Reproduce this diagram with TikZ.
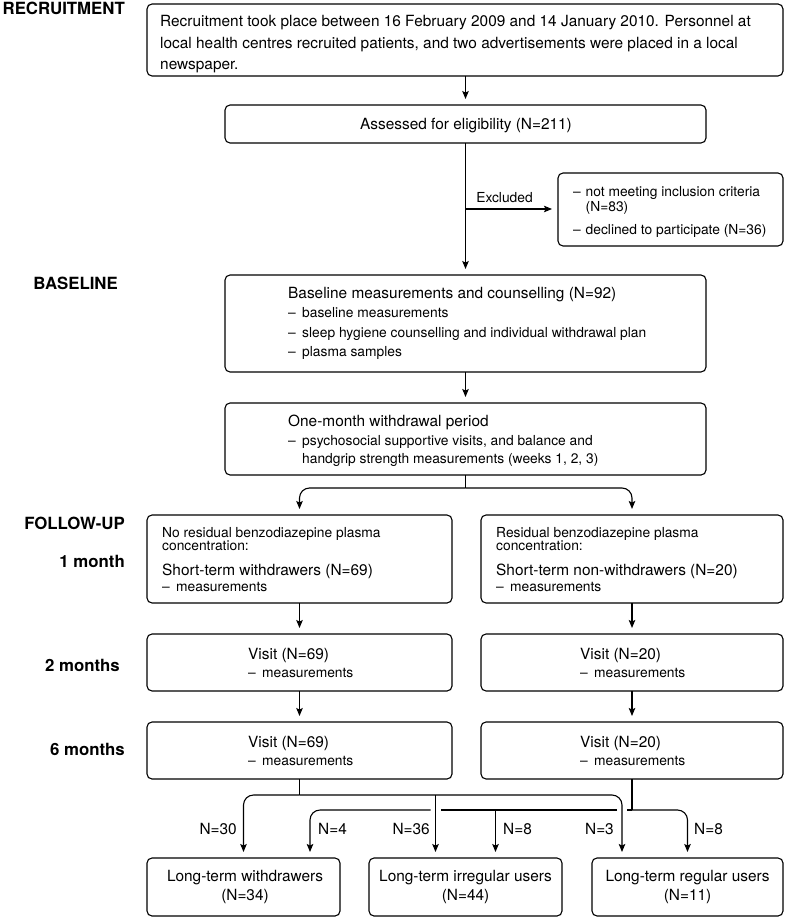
\documentclass[tikz,border=0pt]{standalone}
\usepackage{fontspec}
\setmainfont{TeX Gyre Heros}
\usetikzlibrary{arrows.meta,calc}
\newcommand\dashitem[1]{\makebox[14pt][l]{–}#1}
\begin{document}
\begin{tikzpicture}[x=1pt,y=-1pt,
  box/.style={draw, line width=1.1pt, rounded corners=5pt, inner sep=0pt, outer sep=0pt},
  ln/.style={inner sep=0pt, anchor=base west},
  lnc/.style={inner sep=0pt, anchor=base},
  big/.style={font=\fontsize{15.4}{18}\selectfont},
  sml/.style={font=\fontsize{13.8}{16}\selectfont},
  phase/.style={inner sep=0pt, anchor=base east, font=\bfseries\fontsize{16.8}{20}\selectfont},
  conn/.style={line width=1.1pt},
  arr/.style={conn, -{Stealth[length=8pt,width=6.5pt,inset=1.5pt]}, shorten >=6pt},
  lw/.style={inner sep=0pt, anchor=base west, font=\fontsize{15.4}{18}\selectfont},
  le/.style={inner sep=0pt, anchor=base east, font=\fontsize{15.4}{18}\selectfont}
]
\useasboundingbox (0,0) rectangle (785,917);

% phase labels
\node[phase] (pRec) at (125,15) {RECRUITMENT};
\node[phase] (pBase) at (118,289) {BASELINE};
\node[phase] (pFol) at (125,529) {FOLLOW-UP};
\node[phase] (p1) at (125,567) {1 month};
\node[phase] (p2) at (120,671) {2 months};
\node[phase] (p6) at (125,755) {6 months};

% recruitment
\node[box, minimum width=636pt, minimum height=72pt] (rec) at (465,40) {};
\node[ln,big] (rec1) at (160,27) {Recruitment took place between 16 February 2009 and 14 January 2010. Personnel at};
\node[ln,big] (rec2) at (160,48.5) {local health centres recruited patients, and two advertisements were placed in a local};
\node[ln,big] (rec3) at (160,70) {newspaper.};

\node[box, minimum width=481pt, minimum height=38pt] (ass) at (465.5,124) {};
\node[lnc,big] (asst) at (466,129.5) {Assessed for eligibility (N=211)};

\node[box, minimum width=225pt, minimum height=73pt] (exc) at (670.5,209.5) {};
\node[ln,sml] (exc1) at (573,197) {\makebox[12.5pt][l]{–}not meeting inclusion criteria};
\node[ln,sml] (exc2) at (585.5,212) {(N=83)};
\node[ln,sml] (exc3) at (573,234) {\makebox[12.5pt][l]{–}declined to participate (N=36)};

% baseline
\node[box, minimum width=481pt, minimum height=97pt] (base) at (465.5,323.5) {};
\node[ln,big] (base0) at (288,298) {Baseline measurements and counselling (N=92)};
\node[ln,sml] (base1) at (288,317.5) {\dashitem{baseline measurements}};
\node[ln,sml] (base2) at (288,337) {\dashitem{sleep hygiene counselling and individual withdrawal plan}};
\node[ln,sml] (base3) at (288,356.5) {\dashitem{plasma samples}};

\node[box, minimum width=481pt, minimum height=72pt] (om) at (465.5,439) {};
\node[ln,big] (om0) at (288,426) {One-month withdrawal period};
\node[ln,sml] (om1) at (288,445) {\dashitem{psychosocial supportive visits, and balance and}};
\node[ln,sml] (om2) at (302,463) {handgrip strength measurements (weeks 1, 2, 3)};

% follow-up left
\node[box, minimum width=305pt, minimum height=88pt] (a1) at (299.5,559) {};
\node[ln,sml] (a1a) at (162,537) {No residual benzodiazepine plasma};
\node[ln,sml] (a1b) at (162,550) {concentration:};
\node[ln,big] (a1c) at (162,575) {Short-term withdrawers (N=69)};
\node[ln,sml] (a1d) at (162,591) {\dashitem{measurements}};

\node[box, minimum width=305pt, minimum height=57pt] (a2) at (299.5,662.5) {};
\node[ln,big] (a2a) at (248,659) {Visit (N=69)};
\node[ln,sml] (a2b) at (248,677) {\dashitem{measurements}};

\node[box, minimum width=305pt, minimum height=57pt] (a3) at (299.5,750.5) {};
\node[ln,big] (a3a) at (248,747) {Visit (N=69)};
\node[ln,sml] (a3b) at (248,765) {\dashitem{measurements}};

% follow-up right
\node[box, minimum width=302pt, minimum height=88pt] (b1) at (632,559) {};
\node[ln,sml] (b1a) at (496,537) {Residual benzodiazepine plasma};
\node[ln,sml] (b1b) at (496,550) {concentration:};
\node[ln,big] (b1c) at (496,575) {Short-term non-withdrawers (N=20)};
\node[ln,sml] (b1d) at (496,591) {\dashitem{measurements}};

\node[box, minimum width=302pt, minimum height=57pt] (b2) at (632,662.5) {};
\node[ln,big] (b2a) at (580,659) {Visit (N=20)};
\node[ln,sml] (b2b) at (580,677) {\dashitem{measurements}};

\node[box, minimum width=302pt, minimum height=57pt] (b3) at (632,750.5) {};
\node[ln,big] (b3a) at (580,747) {Visit (N=20)};
\node[ln,sml] (b3b) at (580,765) {\dashitem{measurements}};

% outcome boxes
\node[box, minimum width=193pt, minimum height=58pt] (bl) at (243.5,887) {};
\node[lnc,big] (bl1) at (245,881) {Long-term withdrawers};
\node[lnc,big] (bl2) at (245,900) {(N=34)};
\node[box, minimum width=193pt, minimum height=58pt] (bm) at (465.5,887) {};
\node[lnc,big] (bm1) at (465.5,881) {Long-term irregular users};
\node[lnc,big] (bm2) at (465.5,900) {(N=44)};
\node[box, minimum width=191pt, minimum height=58pt] (br) at (687.5,887) {};
\node[lnc,big] (br1) at (687.5,881) {Long-term regular users};
\node[lnc,big] (br2) at (687.5,900) {(N=11)};

% connectors top
\draw[arr] (ass.north |- rec.south) -- (ass.north);
\draw[arr] (ass.south) -- (base.north);
\coordinate (exj) at (465.5,209);
\draw[arr] (exj) -- (exj -| exc.west);
\node[lnc,sml] (exl) at (504.5,203) {Excluded};
\draw[arr] (base.south) -- (om.north);
\coordinate (spl) at (465.5,488);
\draw[conn] (om.south) -- (spl);
\draw[arr, rounded corners=10pt] (spl) -| (a1.north);
\draw[arr, rounded corners=10pt] (spl) -| (b1.north);
\draw[arr] (a1.south) -- (a2.north);
\draw[arr] (a2.south) -- (a3.north);
\draw[arr] (b1.south) -- (b2.north);
\draw[arr] (b2.south) -- (b3.north);

% bottom connectors: first line (from left box)
\coordinate (jA) at (299.5,795);
\coordinate (tN3) at (622,858);
\coordinate (tN36) at (435.5,858);
\draw[conn] (a3.south) -- (jA);
\draw[arr, rounded corners=10pt] (jA) -| (bl.north);
\draw[arr, rounded corners=10pt] (jA) -| (tN3);
\draw[arr] (tN36 |- jA) -- (tN36);

% second line (from right box), with gaps where the first line crosses
\coordinate (jB) at (632,810);
\coordinate (tN4) at (310,858);
\coordinate (tN8) at (495.5,858);
\coordinate (g1) at (627,810);
\coordinate (g2) at (617,810);
\coordinate (g3) at (441,810);
\coordinate (g4) at (430.5,810);
\draw[conn] (b3.south) -- (jB);
\draw[arr, rounded corners=10pt] (jB) -| (br.north);
\draw[conn] (jB) -- (g1);
\draw[conn] (g2) -- (g3);
\draw[arr, rounded corners=10pt] (g4) -| (tN4);
\draw[arr] (tN8 |- jB) -- (tN8);

% flow labels
\node[le] (n30) at (237,834) {N=30};
\node[lw] (n4) at (318,834) {N=4};
\node[le] (n36) at (430,834) {N=36};
\node[lw] (n8a) at (503,834) {N=8};
\node[le] (n3) at (614,834) {N=3};
\node[lw] (n8b) at (694,834) {N=8};
\end{tikzpicture}
\end{document}
